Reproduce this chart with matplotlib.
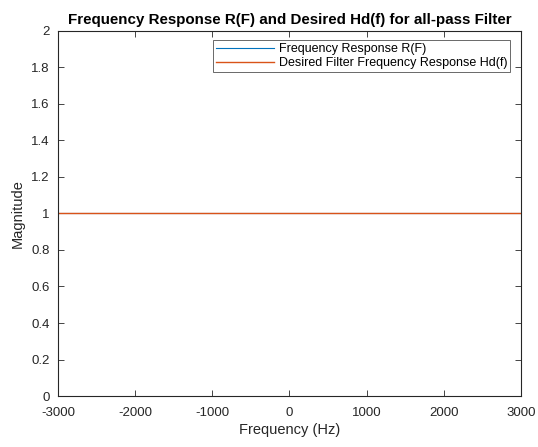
import numpy as np
import matplotlib
matplotlib.use('Agg')
import matplotlib.pyplot as plt

plt.rcParams['font.family'] = ['Liberation Sans', 'DejaVu Sans']
plt.rcParams['axes.unicode_minus'] = False

# frequency axis and magnitudes (flat all-pass response)
freq = [-3000, -2000, -1000, 0, 1000, 2000, 3000]
R_mag = [1, 1, 1, 1, 1, 1, 1]
Hd_mag = [1, 1, 1, 1, 1, 1, 1]

xticks = [-3000, -2000, -1000, 0, 1000, 2000, 3000]
yticks = [0, 0.2, 0.4, 0.6, 0.8, 1, 1.2, 1.4, 1.6, 1.8, 2]
ytick_labels = ['0', '0.2', '0.4', '0.6', '0.8', '1', '1.2', '1.4', '1.6', '1.8', '2']

fig = plt.figure(figsize=(5.38, 4.47), dpi=100)
ax = fig.add_axes([0.108, 0.114, 0.860, 0.817])

ax.plot(freq, R_mag, color=(0, 0.447, 0.741), lw=0.8, label='Frequency Response R(F)')
ax.plot(freq, Hd_mag, color=(0.85, 0.325, 0.098), lw=1.0,
        label='Desired Filter Frequency Response Hd(f)')

ax.set_xlim(-3000, 3000)
ax.set_ylim(0, 2)
ax.set_xticks(xticks)
ax.set_yticks(yticks)
ax.set_yticklabels(ytick_labels)

axcol = (0.15, 0.15, 0.15)
for s in ax.spines.values():
    s.set_color(axcol)
    s.set_linewidth(0.8)
ax.tick_params(direction='in', length=4, width=0.6, colors=axcol, labelsize=9.5,
               top=True, right=True, labeltop=False, labelright=False)
ax.tick_params(axis='x', pad=8)
ax.tick_params(axis='y', pad=6)

ax.set_xlabel('Frequency (Hz)', fontsize=10.5, color=axcol, labelpad=3)
ax.set_ylabel('Magnitude', fontsize=10.5, color=axcol, labelpad=5)
ax.set_title('Frequency Response R(F) and Desired Hd(f) for all-pass Filter',
             fontsize=10.9, fontweight='bold', color='black', pad=5)

leg = ax.legend(loc='upper right', bbox_to_anchor=(0.977, 0.974), fontsize=9,
                frameon=True, fancybox=False, edgecolor=axcol, borderpad=0.25,
                handlelength=4.6, handletextpad=0.4, labelspacing=0.15, borderaxespad=0)
leg.get_frame().set_linewidth(0.6)

fig.savefig('out.png', dpi=100)
